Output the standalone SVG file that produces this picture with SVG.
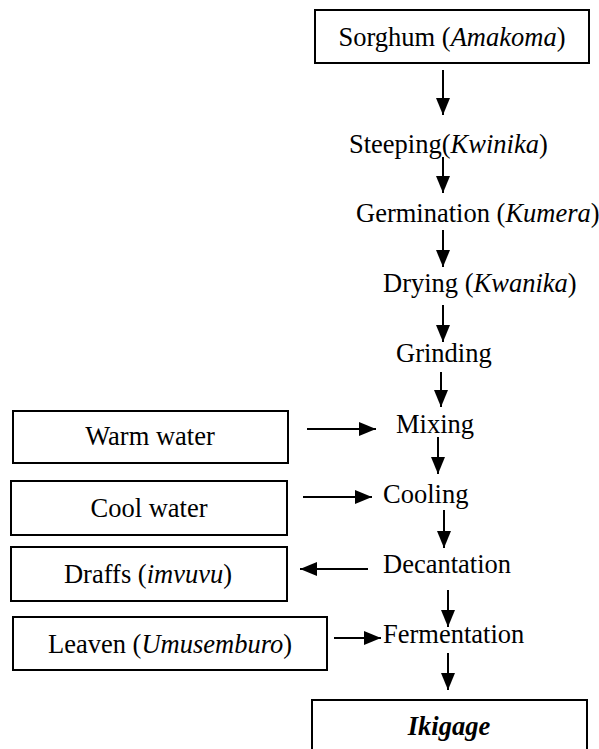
<svg xmlns="http://www.w3.org/2000/svg" width="599" height="749" viewBox="0 0 599 749">
  <style>
    .box { fill: #fff; stroke: #000; stroke-width: 2; }
    .lbl { font-size: 26.5px; fill: #000; }
    .mid { text-anchor: middle; }
    .it { font-style: italic; }
    .arrow { stroke: #000; stroke-width: 2; fill: none; marker-end: url(#head); }
  </style>
  <defs>
    <marker id="head" markerUnits="userSpaceOnUse" markerWidth="18" markerHeight="14" refX="17" refY="7" orient="auto">
      <path d="M0,0 L17,7 L0,14 Z" fill="#000"/>
    </marker>
  </defs>
  <rect width="599" height="749" fill="#fff"/>

  <g font-family="Liberation Serif, Times New Roman, DejaVu Serif, serif">
    <g id="sorghum">
      <rect class="box" x="315" y="10" width="274" height="53"/>
      <text class="lbl mid" x="452" y="46">Sorghum (<tspan class="it">Amakoma</tspan>)</text>
    </g>
    <g id="steeping">
      <text class="lbl" x="349" y="153">Steeping(<tspan class="it">Kwinika</tspan>)</text>
    </g>
    <g id="germination">
      <text class="lbl" x="356" y="222">Germination (<tspan class="it">Kumera</tspan>)</text>
    </g>
    <g id="drying">
      <text class="lbl" x="383" y="292">Drying (<tspan class="it">Kwanika</tspan>)</text>
    </g>
    <g id="grinding">
      <text class="lbl" x="396" y="362">Grinding</text>
    </g>
    <g id="mixing">
      <text class="lbl" x="396" y="433">Mixing</text>
    </g>
    <g id="cooling">
      <text class="lbl" x="383" y="503">Cooling</text>
    </g>
    <g id="decantation">
      <text class="lbl" x="383" y="573">Decantation</text>
    </g>
    <g id="fermentation">
      <text class="lbl" x="383" y="643">Fermentation</text>
    </g>
    <g id="warm-water">
      <rect class="box" x="13" y="411" width="275" height="52"/>
      <text class="lbl mid" x="150" y="445">Warm water</text>
    </g>
    <g id="cool-water">
      <rect class="box" x="11" y="481" width="276" height="54"/>
      <text class="lbl mid" x="149" y="517">Cool water</text>
    </g>
    <g id="draffs">
      <rect class="box" x="11" y="547" width="276" height="54"/>
      <text class="lbl mid" x="148" y="583">Draffs (<tspan class="it">imvuvu</tspan>)</text>
    </g>
    <g id="leaven">
      <rect class="box" x="13" y="617" width="314" height="53"/>
      <text class="lbl mid" x="170" y="653">Leaven (<tspan class="it">Umusemburo</tspan>)</text>
    </g>
    <g id="ikigage">
      <rect class="box" x="312" y="700" width="275" height="62"/>
      <text class="lbl mid" x="449" y="735" font-weight="bold" font-style="italic">Ikigage</text>
    </g>
  </g>

  <g id="connectors">
    <line class="arrow" x1="443" y1="70" x2="443" y2="115"/>
    <line class="arrow" x1="443" y1="157" x2="443" y2="193"/>
    <line class="arrow" x1="443" y1="230" x2="443" y2="267"/>
    <line class="arrow" x1="443" y1="305" x2="443" y2="342"/>
    <line class="arrow" x1="441" y1="372" x2="441" y2="407"/>
    <line class="arrow" x1="307" y1="429" x2="376" y2="429"/>
    <line class="arrow" x1="438" y1="437" x2="438" y2="474"/>
    <line class="arrow" x1="303" y1="497" x2="372" y2="497"/>
    <line class="arrow" x1="444" y1="510" x2="444" y2="548"/>
    <line class="arrow" x1="368" y1="569" x2="300" y2="569"/>
    <line class="arrow" x1="448" y1="590" x2="448" y2="627"/>
    <line class="arrow" x1="334" y1="638" x2="381" y2="638"/>
    <line class="arrow" x1="448" y1="653" x2="448" y2="690"/>
  </g>
</svg>
